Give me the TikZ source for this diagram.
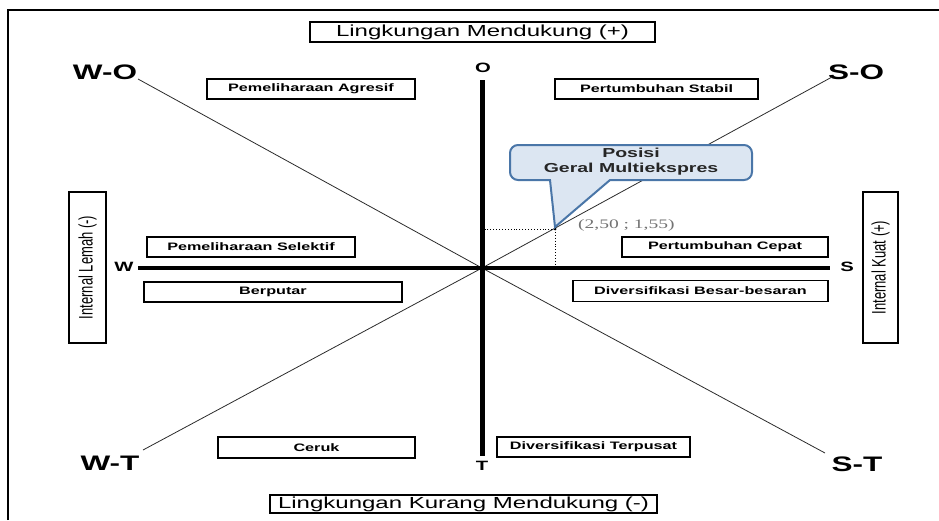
\documentclass[tikz,border=0pt]{standalone}
\usepackage{fontspec}
\usepackage{tikz}
\usetikzlibrary{positioning,calc}
\newfontfamily\arialx[FakeStretch=1.5]{Liberation Sans}
\newfontfamily\timesx[FakeStretch=1.5]{Liberation Serif}
\newfontfamily\arialn{Liberation Sans}
\definecolor{calloutfill}{HTML}{DCE6F2}
\definecolor{calloutline}{HTML}{4A76A8}
\definecolor{diagline}{HTML}{2B2B2B}
\tikzset{
  stratbox/.style={draw, line width=1.3pt, minimum height=20pt, inner sep=0pt, font=\arialx\bfseries\fontsize{10.8}{12}\selectfont},
  envbox/.style={draw, line width=1.3pt, inner sep=0pt, font=\arialx\fontsize{16}{18}\selectfont},
  intbox/.style={draw, line width=1.3pt, rotate=90, inner sep=0pt, minimum width=151pt, font=\arialn\fontsize{13}{14}\selectfont},
  cornerlbl/.style={inner sep=0pt, font=\arialx\bfseries\fontsize{21}{24}\selectfont},
  axislbl/.style={inner sep=0pt, font=\arialx\bfseries\fontsize{13.5}{15}\selectfont},
  diag/.style={draw=diagline, line width=0.8pt},
}

\begin{document}
\begin{tikzpicture}[x=1pt,y=-1pt]
  \useasboundingbox (0,0) rectangle (939,520);
  \draw[line width=2pt] (8,520) -- (8,10) -- (939,10);

  \coordinate (cen) at (482,268);
  \coordinate (oend) at (482,80);
  \coordinate (tend) at (482,456);
  \coordinate (wend) at (138,268);
  \coordinate (send) at (830,268);
  \coordinate (wo) at (138,79);
  \coordinate (so) at (832,77);
  \coordinate (wt) at (143,450);
  \coordinate (st) at (825,453);
  \coordinate (pos) at (555,229);

  \node[envbox, minimum width=345pt, minimum height=20pt] (envplus) at (482.5,32) {Lingkungan Mendukung (+)};
  \node[envbox, minimum width=387pt, minimum height=18pt] (envmin) at (463.5,504) {Lingkungan Kurang Mendukung (-)};
  \node[intbox, minimum height=37pt] (intmin) at (87.5,267.5) {\scalebox{1}[1.5]{Internal Lemah (-)}};
  \node[intbox, minimum height=35pt] (intplus) at (880.5,267.5) {\scalebox{1}[1.5]{Internal Kuat (+)}};

  \node[stratbox, minimum width=208pt] (agresif) at (311,89) {Pemeliharaan Agresif};
  \node[stratbox, minimum width=203pt] (stabil) at (656.5,89) {Pertumbuhan Stabil};
  \node[stratbox, minimum width=208pt] (selektif) at (251,247) {Pemeliharaan Selektif};
  \node[stratbox, minimum width=258pt] (berputar) at (273,292) {Berputar};
  \node[stratbox, minimum width=206pt] (cepat) at (725,247) {Pertumbuhan Cepat};
  \node[stratbox, minimum width=255pt, minimum height=21pt] (besar) at (700.5,291) {Diversifikasi Besar-besaran};
  \node[stratbox, minimum width=197pt, minimum height=21pt] (ceruk) at (316.5,447.5) {Ceruk};
  \node[stratbox, minimum width=193pt] (terpusat) at (593.5,447) {Diversifikasi Terpusat};

  \node[cornerlbl] (lblwo) at (105,72.5) {W-O};
  \node[cornerlbl] (lblso) at (856,72) {S-O};
  \node[cornerlbl] (lblwt) at (110,463.5) {W-T};
  \node[cornerlbl] (lblst) at (857,464.5) {S-T};
  \node[axislbl] (lblo) at (483,68) {O};
  \node[axislbl] (lblt) at (482,466) {T};
  \node[axislbl] (lblw) at (124,267) {W};
  \node[axislbl] (lbls) at (847,267) {S};

  \foreach \c in {wo,so,wt,st}
    \draw[diag] (cen) -- (\c);
  \draw[line width=4pt] (wend) -- (send);
  \draw[line width=5pt] (oend) -- (tend);

  \draw[dotted, line width=0.9pt] (pos) -- (pos -| cen);
  \draw[dotted, line width=0.9pt] (pos) -- (pos |- cen);
  \fill (pos) circle (1.5pt);
  \node[anchor=west, inner sep=0pt, text=black!55, font=\timesx\fontsize{13}{14}\selectfont] (poslbl) at (578,225) {(2,50 ; 1,55)};

  \draw[line width=2pt, draw=calloutline, fill=calloutfill]
    (555,227) -- (550,180) [rounded corners=8pt] -- (510,180) -- (510,145) -- (752,145) -- (752,180) [sharp corners] -- (610,180) -- cycle;
  \node[align=center, inner sep=0pt, text=black!85, font=\arialx\bfseries\fontsize{13}{15}\selectfont] (callout) at (631,162) {Posisi\\Geral Multiekspres};
\end{tikzpicture}
\end{document}
